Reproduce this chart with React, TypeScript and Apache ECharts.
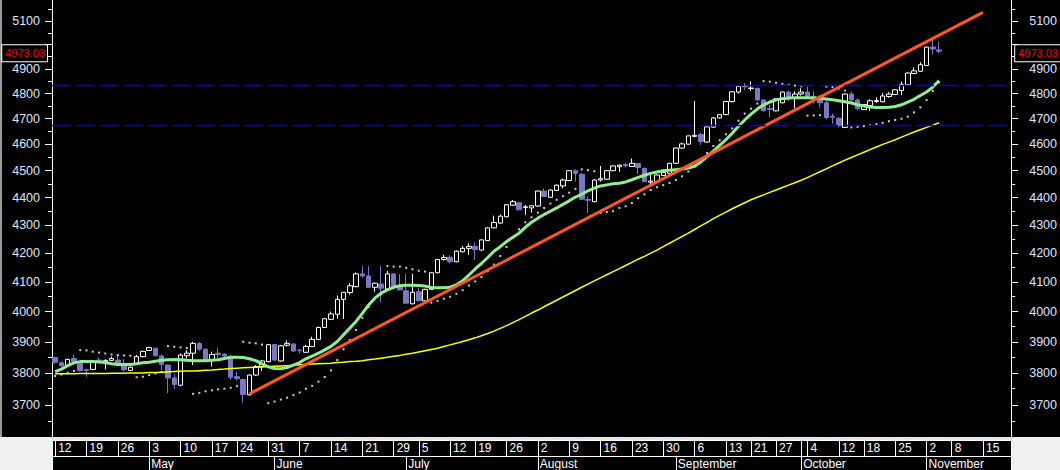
import React, { useEffect, useRef } from "react";
import * as echarts from "echarts";

// ---------- axis / calendar ----------
const N_CATS = 153; // trading-day slots shown on the axis (incl. empty future ones)
const DAY_LABELS: [number, string][] = [
  [0, "12"], [5, "19"], [10, "26"], [15, "3"], [20, "10"], [25, "17"], [29, "24"], [34, "31"],
  [39, "7"], [44, "14"], [49, "21"], [54, "29"], [58, "5"], [63, "12"], [67, "19"], [72, "26"],
  [77, "2"], [82, "9"], [87, "16"], [92, "23"], [97, "30"], [102, "6"], [107, "13"], [111, "21"],
  [115, "27"], [120, "4"], [125, "12"], [129, "18"], [134, "25"], [139, "2"], [143, "8"], [148, "15"],
];
const MONTH_LABELS: [number, string][] = [
  [15, "May"], [35, "June"], [56, "July"], [77, "August"], [99, "September"], [119, "October"], [139, "November"],
];
const Y_MIN = 3601.6;
const Y_MAX = 5190.5;
const Y_MAJOR = [3700, 3800, 3900, 4000, 4100, 4200, 4300, 4400, 4500, 4600, 4700, 4800, 4900, 5000, 5100];
const Y_LABELED = [3700, 3800, 3900, 4000, 4100, 4200, 4300, 4400, 4500, 4600, 4700, 4800, 4900, 5100];
const Y_MINOR = [3650, 3750, 3850, 3950, 4050, 4150, 4250, 4350, 4450, 4550, 4650, 4750, 4850, 4950, 5050, 5150];

// ---------- prices ----------
const OPEN = [
  3849, 3832, 3823, 3846, 3830, 3811, 3811, 3841, 3836, 3840, 3841, 3827, 3808, 3830, 3852, 3872, 3879, 3854, 3825, 3784,
  3761, 3855, 3863, 3895, 3876, 3842, 3863, 3860, 3852, 3788, 3779, 3731, 3793, 3820, 3836, 3891, 3838, 3889, 3893, 3873,
  3866, 3885, 3908, 3947, 3974, 3991, 4041, 4064, 4084, 4128, 4121, 4082, 4093, 4076, 4128, 4084, 4070, 4026, 4067, 4036,
  4075, 4132, 4178, 4186, 4170, 4205, 4217, 4224, 4211, 4245, 4290, 4307, 4330, 4372, 4381, 4364, 4362, 4369, 4424, 4401,
  4426, 4443, 4463, 4500, 4487, 4393, 4385, 4465, 4468, 4500, 4515, 4523, 4516, 4527, 4509, 4457, 4459, 4482, 4490, 4528,
  4586, 4601, 4631, 4638, 4609, 4667, 4703, 4716, 4768, 4806, 4830, 4820, 4821, 4774, 4740, 4731, 4763, 4806, 4782, 4798,
  4806, 4789, 4783, 4763, 4710, 4702, 4666, 4798, 4774, 4736, 4752, 4768, 4767, 4788, 4796, 4812, 4835, 4881, 4890, 4914,
  4990, 4978,
];
const HIGH = [
  3852, 3836, 3846, 3857, 3832, 3812, 3836, 3849, 3843, 3852, 3857, 3844, 3820, 3857, 3871, 3884, 3881, 3859, 3827, 3796,
  3862, 3873, 3900, 3900, 3879, 3868, 3881, 3863, 3857, 3804, 3782, 3795, 3825, 3841, 3893, 3893, 3890, 3905, 3895, 3877,
  3890, 3917, 3950, 3978, 4000, 4054, 4066, 4096, 4133, 4155, 4155, 4098, 4155, 4138, 4130, 4128, 4128, 4128, 4079, 4077,
  4134, 4180, 4195, 4193, 4210, 4225, 4235, 4238, 4249, 4292, 4334, 4338, 4376, 4391, 4383, 4373, 4372, 4426, 4434, 4430,
  4448, 4471, 4502, 4505, 4490, 4405, 4468, 4518, 4502, 4520, 4523, 4530, 4546, 4529, 4511, 4484, 4486, 4505, 4530, 4588,
  4607, 4635, 4770, 4644, 4670, 4707, 4718, 4770, 4809, 4831, 4842, 4849, 4823, 4776, 4754, 4781, 4808, 4812, 4809, 4821,
  4828, 4808, 4794, 4781, 4720, 4705, 4800, 4808, 4781, 4758, 4777, 4785, 4801, 4805, 4817, 4848, 4885, 4906, 4927, 4992,
  5021, 5012,
];
const LOW = [
  3829, 3820, 3820, 3834, 3805, 3788, 3809, 3834, 3811, 3838, 3828, 3804, 3806, 3825, 3850, 3870, 3853, 3809, 3736, 3750,
  3758, 3846, 3825, 3870, 3838, 3820, 3846, 3846, 3777, 3775, 3707, 3729, 3791, 3806, 3834, 3839, 3836, 3884, 3868, 3862,
  3864, 3883, 3906, 3945, 3972, 3976, 3975, 4057, 4082, 4114, 4082, 4067, 4033, 4074, 4082, 4071, 4026, 4024, 4034, 4034,
  4073, 4130, 4174, 4164, 4168, 4203, 4194, 4176, 4209, 4243, 4288, 4305, 4328, 4370, 4353, 4337, 4345, 4367, 4402, 4399,
  4424, 4434, 4461, 4459, 4392, 4344, 4383, 4459, 4466, 4498, 4496, 4512, 4514, 4487, 4457, 4443, 4457, 4480, 4488, 4526,
  4584, 4599, 4628, 4598, 4607, 4665, 4701, 4714, 4764, 4800, 4813, 4810, 4772, 4729, 4706, 4729, 4761, 4771, 4740, 4792,
  4783, 4760, 4744, 4697, 4680, 4666, 4664, 4767, 4733, 4734, 4731, 4762, 4765, 4783, 4794, 4794, 4833, 4879, 4888, 4912,
  4959, 4965,
];
const CLOSE = [
  3834, 3823, 3843, 3836, 3807, 3808, 3834, 3836, 3840, 3846, 3830, 3810, 3818, 3852, 3869, 3881, 3855, 3827, 3784, 3763,
  3857, 3863, 3895, 3876, 3843, 3859, 3859, 3854, 3786, 3782, 3732, 3793, 3820, 3838, 3891, 3841, 3887, 3895, 3870, 3871,
  3885, 3908, 3947, 3976, 3992, 4041, 4065, 4087, 4128, 4121, 4082, 4096, 4079, 4128, 4084, 4073, 4028, 4065, 4036, 4075,
  4132, 4178, 4185, 4170, 4207, 4217, 4224, 4213, 4247, 4290, 4309, 4332, 4374, 4385, 4355, 4366, 4370, 4424, 4404, 4428,
  4446, 4465, 4500, 4490, 4394, 4390, 4465, 4470, 4500, 4518, 4521, 4518, 4528, 4512, 4459, 4461, 4484, 4493, 4528, 4586,
  4602, 4633, 4635, 4611, 4668, 4703, 4716, 4768, 4807, 4829, 4827, 4822, 4774, 4731, 4737, 4779, 4806, 4778, 4798, 4806,
  4789, 4777, 4763, 4704, 4706, 4673, 4798, 4774, 4740, 4756, 4771, 4772, 4790, 4798, 4815, 4837, 4883, 4892, 4917, 4990,
  4982, 4973,
];
const LAST_PRICE = 4973.03;

// ---------- indicators ----------
const MA_GREEN = [
  3804, 3812, 3823, 3832, 3836, 3836, 3836, 3835, 3833, 3829, 3827, 3827, 3827, 3829, 3832, 3834, 3837, 3840, 3842, 3843,
  3842, 3840, 3839, 3839, 3839, 3840, 3842, 3846, 3850, 3850, 3849, 3845, 3839, 3829, 3819, 3814, 3813, 3817, 3825, 3833,
  3845, 3854, 3863, 3874, 3885, 3901, 3923, 3945, 3967, 3994, 4022, 4045, 4062, 4073, 4082, 4087, 4089, 4089, 4088, 4086,
  4081, 4080, 4080, 4082, 4090, 4104, 4124, 4145, 4164, 4185, 4207, 4223, 4241, 4256, 4271, 4292, 4310, 4325, 4338, 4350,
  4362, 4375, 4388, 4402, 4412, 4425, 4435, 4443, 4447, 4451, 4453, 4458, 4466, 4475, 4483, 4490, 4495, 4500, 4502, 4504,
  4506, 4510, 4517, 4533, 4553, 4574, 4596, 4618, 4643, 4670, 4695, 4718, 4738, 4755, 4766, 4775, 4779, 4782, 4783, 4783,
  4783, 4782, 4781, 4778, 4775, 4771, 4767, 4762, 4755, 4750, 4746, 4744, 4744, 4745, 4748, 4755, 4766, 4777, 4792, 4806,
  4826, 4852,
];
const MA_YELLOW = [
  3797, 3797, 3797, 3797, 3798, 3798, 3798, 3798, 3798, 3799, 3799, 3799, 3800, 3800, 3800, 3801, 3801, 3802, 3803, 3804,
  3805, 3806, 3806, 3807, 3808, 3809, 3811, 3812, 3814, 3815, 3816, 3817, 3818, 3819, 3820, 3821, 3822, 3823, 3824, 3826,
  3827, 3828, 3829, 3830, 3831, 3833, 3834, 3836, 3837, 3839, 3842, 3844, 3847, 3850, 3853, 3856, 3860, 3863, 3867, 3871,
  3875, 3879, 3885, 3890, 3895, 3901, 3907, 3913, 3920, 3927, 3935, 3944, 3953, 3963, 3973, 3984, 3995, 4005, 4016, 4027,
  4038, 4049, 4060, 4071, 4082, 4093, 4104, 4114, 4125, 4136, 4146, 4157, 4168, 4179, 4189, 4200, 4211, 4223, 4235, 4247,
  4259, 4271, 4284, 4297, 4310, 4323, 4335, 4347, 4359, 4370, 4381, 4392, 4401, 4410, 4419, 4428, 4437, 4446, 4455, 4464,
  4474, 4485, 4496, 4507, 4518, 4529, 4540, 4550, 4560, 4570, 4580, 4590, 4600, 4609, 4618, 4628, 4638, 4648, 4657, 4666,
  4675, 4684,
];
const SAR = [
  3790, 3795, 3800, 3806, 3873, 3872, 3868, 3865, 3862, 3859, 3857, 3856, 3855, 3786, 3788, 3793, 3798, 3803, 3886, 3884,
  3882, 3880, 3734, 3737, 3742, 3745, 3748, 3750, 3753, 3758, 3900, 3897, 3895, 3891, 3705, 3710, 3716, 3722, 3730, 3738,
  3750, 3759, 3772, 3787, 3808, 3841, 3876, 3906, 3939, 3979, 4015, 4046, 4058, 4155, 4153, 4153, 4149, 4144, 4139, 4136,
  4030, 4036, 4043, 4050, 4060, 4072, 4088, 4102, 4117, 4137, 4160, 4190, 4222, 4255, 4285, 4310, 4328, 4345, 4362, 4378,
  4392, 4405, 4418, 4432, 4505, 4502, 4498, 4344, 4347, 4350, 4362, 4368, 4380, 4398, 4412, 4428, 4438, 4446, 4454, 4465,
  4479, 4497, 4516, 4538, 4567, 4594, 4616, 4639, 4662, 4692, 4720, 4740, 4760, 4850, 4848, 4843, 4839, 4835, 4832, 4829,
  4712, 4713, 4714, 4828, 4826, 4820, 4812, 4666, 4668, 4671, 4675, 4679, 4684, 4690, 4695, 4700, 4708, 4725, 4745, 4774,
  4810, 4845,
];
const TREND: [number, number][] = [[31, 3734], [148, 5137]];
const LEVELS = [4833, 4674];

// ---------- styles ----------
const FONT = "'Liberation Sans', Arial, sans-serif";
const BULL_FILL = "#000000";
const BEAR = "#7878c8";
const AXIS_TEXT = "#dde5ff";
const LEVEL_BLUE = "#0000ff";

const LN = (v: number) => Math.log(v);

export default function App() {
  const ref = useRef<HTMLDivElement>(null);

  useEffect(() => {
    if (!ref.current) return;
    const chart = echarts.init(ref.current, undefined, { renderer: "svg" });

    const cats = Array.from({ length: N_CATS }, (_, i) => "d" + i);
    const dayMap: Record<string, string> = {};
    DAY_LABELS.forEach(([i, t]) => (dayMap["d" + i] = t));
    const monthMap: Record<string, string> = {};
    MONTH_LABELS.forEach(([i, t]) => (monthMap["d" + i] = t));
    const dayTickSet = new Set<number>([...DAY_LABELS.map((d) => d[0]), 119]);
    const dayLabelSet = new Set<number>(DAY_LABELS.map((d) => d[0]));
    const monthSet = new Set<number>(MONTH_LABELS.map((d) => d[0]));

    const candleData = OPEN.map((o, i) => [LN(o), LN(CLOSE[i]), LN(LOW[i]), LN(HIGH[i])]);
    const trendData: any[] = cats.map(() => "-");
    TREND.forEach(([i, v]) => (trendData[i] = LN(v)));

    const yCommon = {
      type: "value",
      min: LN(Y_MIN),
      max: LN(Y_MAX),
      splitLine: { show: false },
    };
    const fmt = (v: number) => String(Math.round(Math.exp(v)));

    const yAxis = [
      {
        ...yCommon,
        position: "left",
        axisLine: { show: true, lineStyle: { color: "#ffffff", width: 1 } },
        axisTick: { show: true, length: 7, lineStyle: { color: "#ffffff" }, customValues: Y_MAJOR.map(LN) },
        axisLabel: {
          show: true, color: AXIS_TEXT, fontSize: 12.5, fontFamily: FONT, margin: 12,
          customValues: Y_LABELED.map(LN), formatter: fmt,
        },
      },
      {
        ...yCommon,
        position: "left",
        axisLine: { show: false },
        axisTick: { show: true, length: 4, lineStyle: { color: "#ffffff" }, customValues: Y_MINOR.map(LN) },
        axisLabel: { show: false },
      },
      {
        ...yCommon,
        position: "right",
        axisLine: { show: true, lineStyle: { color: "#ffffff", width: 1 } },
        axisTick: { show: true, length: 7, lineStyle: { color: "#ffffff" }, customValues: Y_MAJOR.map(LN) },
        axisLabel: {
          show: true, color: AXIS_TEXT, fontSize: 12.5, fontFamily: FONT, margin: 18,
          customValues: Y_LABELED.map(LN), formatter: fmt,
        },
      },
      {
        ...yCommon,
        position: "right",
        axisLine: { show: false },
        axisTick: { show: true, length: 4, lineStyle: { color: "#ffffff" }, customValues: Y_MINOR.map(LN) },
        axisLabel: { show: false },
      },
    ];

    const xAxis = [
      {
        type: "category", data: cats, position: "bottom", boundaryGap: true,
        axisLine: { show: false }, axisTick: { show: false }, axisLabel: { show: false },
        splitLine: { show: false },
      },
      {
        type: "category", data: cats, position: "bottom", boundaryGap: true, offset: 3,
        axisLine: { show: true, lineStyle: { color: "#ffffff", width: 1 } },
        axisTick: {
          show: true, alignWithLabel: true, length: 16, lineStyle: { color: "#ffffff" },
          interval: (i: number) => dayTickSet.has(i),
        },
        axisLabel: {
          show: true, interval: (i: number) => dayLabelSet.has(i),
          formatter: (v: string) => dayMap[v] || "",
          color: "#ffffff", fontSize: 12, fontFamily: FONT, align: "left", margin: 2,
          padding: [0, 0, 0, 3],
        },
        splitLine: { show: false },
      },
      {
        type: "category", data: cats, position: "bottom", boundaryGap: true, offset: 19,
        axisLine: { show: true, lineStyle: { color: "#ffffff", width: 1 } },
        axisTick: {
          show: true, alignWithLabel: true, length: 14, lineStyle: { color: "#ffffff" },
          interval: (i: number) => monthSet.has(i),
        },
        axisLabel: {
          show: true, interval: (i: number) => monthSet.has(i),
          formatter: (v: string) => monthMap[v] || "",
          color: "#ffffff", fontSize: 12, fontFamily: FONT, align: "left", margin: 2,
          padding: [0, 0, 0, 2],
        },
        splitLine: { show: false },
      },
    ];

    // horizontal support / resistance levels: each one a flat series spanning the axis
    const levelSeries = LEVELS.map((lv, k) => ({
      name: "level " + (k + 1),
      type: "line",
      xAxisIndex: 0,
      yAxisIndex: 0,
      data: [],
      markLine: {
        silent: true,
        symbol: ["none", "none"],
        label: { show: false },
        lineStyle: { color: LEVEL_BLUE, type: [18, 6], width: 1.3, opacity: 1 },
        emphasis: { disabled: true },
        data: [
          [
            { coord: [0, LN(lv)], x: 52 },
            { coord: [N_CATS - 1, LN(lv)], x: 1012 },
          ],
        ],
      },
    }));

    const option: any = {
      backgroundColor: "#000000",
      animation: false,
      color: [LEVEL_BLUE],
      grid: { left: 52, right: 48, top: 0, bottom: 33, containLabel: false },
      xAxis,
      yAxis,
      series: [
        {
          name: "price",
          type: "candlestick",
          xAxisIndex: 0,
          yAxisIndex: 0,
          barWidth: 5,
          data: candleData,
          itemStyle: {
            color: BULL_FILL,
            color0: BEAR,
            borderColor: "#ffffff",
            borderColor0: BEAR,
            borderWidth: 1,
          },
          markLine: {
            silent: true,
            symbol: ["none", "none"],
            lineStyle: { width: 0, color: "rgba(0,0,0,0)" },
            label: {
              show: true,
              formatter: LAST_PRICE.toFixed(2),
              color: "#ff0000",
              fontSize: 11,
              fontFamily: FONT,
              backgroundColor: "#000000",
              borderColor: "#ffffff",
              borderWidth: 1,
              padding: [3, 2, 2, 3],
            },
            data: [
              { yAxis: LN(LAST_PRICE), label: { position: "start", distance: 5 } },
              { yAxis: LN(LAST_PRICE), label: { position: "end", distance: 4 } },
            ],
          },
        },
        ...levelSeries,
        {
          name: "slow MA",
          type: "line",
          xAxisIndex: 0,
          yAxisIndex: 0,
          data: MA_YELLOW.map(LN),
          symbol: "none",
          lineStyle: { color: "#ffff00", width: 1.5 },
        },
        {
          name: "fast MA",
          type: "line",
          xAxisIndex: 0,
          yAxisIndex: 0,
          data: MA_GREEN.map(LN),
          symbol: "none",
          lineStyle: { color: "#90ee90", width: 3 },
        },
        {
          name: "SAR",
          type: "scatter",
          xAxisIndex: 0,
          yAxisIndex: 0,
          data: SAR.map(LN),
          symbol: "rect",
          symbolSize: 2,
          itemStyle: { color: "#ffffff" },
        },
        {
          name: "trend",
          type: "line",
          xAxisIndex: 0,
          yAxisIndex: 0,
          data: trendData,
          connectNulls: true,
          symbol: "none",
          lineStyle: { color: "#ff5722", width: 3 },
        },
      ],
      graphic: [
        { type: "rect", left: 0, top: 437, shape: { width: 52, height: 33 }, style: { fill: "#f0f0f0" }, z: 0 },
        { type: "rect", left: 1012, top: 437, shape: { width: 48, height: 33 }, style: { fill: "#f0f0f0" }, z: 0 },
        { type: "rect", left: 52, top: 437, shape: { width: 960, height: 3 }, style: { fill: "#e6e6e6" }, z: 0 },
        { type: "rect", left: 0, top: 0, shape: { width: 2, height: 437 }, style: { fill: "#9a9a9a" }, z: 0 },
        { type: "line", shape: { x1: 52.5, y1: 440, x2: 52.5, y2: 470 }, style: { stroke: "#ffffff", lineWidth: 1 }, z: 5 },
        { type: "line", shape: { x1: 1011.5, y1: 440, x2: 1011.5, y2: 470 }, style: { stroke: "#ffffff", lineWidth: 1 }, z: 5 },
      ],
    };

    chart.setOption(option);
    return () => chart.dispose();
  }, []);

  return (
    <div
      ref={ref}
      style={{ position: "fixed", left: 0, top: 0, width: 1060, height: 470, background: "#000" }}
    />
  );
}
